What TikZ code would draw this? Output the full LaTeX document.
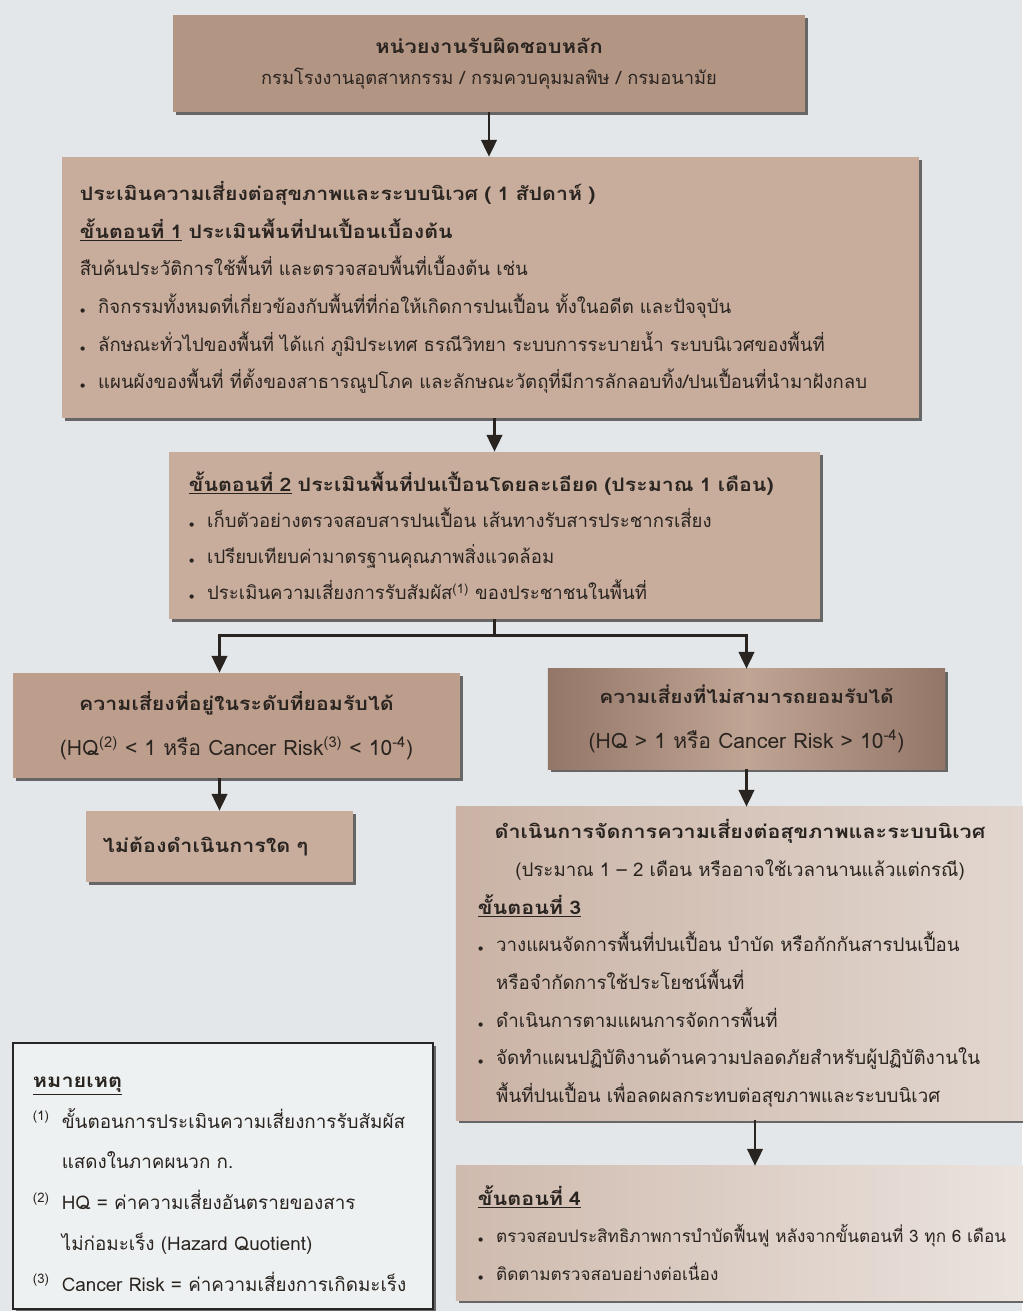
\documentclass[tikz,border=0pt]{standalone}
\usepackage{fontspec}
\setmainfont[Script=Thai, BoldFeatures={FakeStretch=1.15}]{Loma}
\usepackage{tikz}
\usetikzlibrary{arrows.meta,shadows}
\definecolor{paper}{HTML}{E3E7EA}
\definecolor{ink}{HTML}{2A2420}
\definecolor{tanA}{HTML}{B39584}
\definecolor{tanB}{HTML}{C8AD9D}
\definecolor{tanC}{HTML}{BD9E8C}
\definecolor{tanD}{HTML}{937667}
\definecolor{tanE}{HTML}{C0A494}
\definecolor{paleA}{HTML}{CAB3A5}
\definecolor{paleB}{HTML}{E2D7D0}
\newlength{\itmw}
\setlength{\itmw}{13pt}
\newcommand{\itm}{\makebox[\itmw][l]{\scriptsize$\bullet$}}
\newcommand{\nte}[1]{\makebox[20.5pt][l]{\textsuperscript{#1}}}
\newcommand{\ctrline}[1]{\hspace*{0pt plus 1filll}#1\hspace*{0pt plus 1filll}\null}
\tikzstyle{box} = [rectangle, text=ink, inner xsep=0pt, inner ysep=0pt,
    drop shadow={shadow xshift=0.07cm, shadow yshift=-0.07cm, fill=black!60, opacity=1}]
\tikzstyle{body} = [font=\fontsize{13.2}{26.8}\selectfont]
\tikzstyle{link} = [-{Triangle[width=11pt,length=12pt]}, line width=2pt, ink]

\begin{document}
\begin{tikzpicture}[x=0.025cm, y=-0.025cm]
  % page
  \fill[paper] (0,0) rectangle (1022,1311);
  \useasboundingbox (0,0) rectangle (1022,1311);
  % Place boxes
  \node [box, fill=tanA, minimum width=15.8cm, minimum height=2.425cm, align=center,
         font=\fontsize{13}{21.5}\selectfont] (lead) at (489,63.5)
    {{\fontsize{13.5}{21.5}\selectfont\textbf{หน่วยงานรับผิดชอบหลัก}}\\ กรมโรงงานอุตสาหกรรม / กรมควบคุมมลพิษ / กรมอนามัย};
  \node [box, body, fill=tanB, minimum width=21.425cm, minimum height=6.525cm,
         text width=20.525cm, align=left] (stepone) at (490.5,287.5)
    {\textbf{ประเมินความเสี่ยงต่อสุขภาพและระบบนิเวศ ( 1 สัปดาห์ )}\\
     \textbf{\underline{ขั้นตอนที่ 1} ประเมินพื้นที่ปนเปื้อนเบื้องต้น}\\
     สืบค้นประวัติการใช้พื้นที่ และตรวจสอบพื้นที่เบื้องต้น เช่น\\
     \itm กิจกรรมทั้งหมดที่เกี่ยวข้องกับพื้นที่ที่ก่อให้เกิดการปนเปื้อน ทั้งในอดีต และปัจจุบัน\\
     \itm ลักษณะทั่วไปของพื้นที่ ได้แก่ ภูมิประเทศ ธรณีวิทยา ระบบการระบายน้ำ ระบบนิเวศของพื้นที่\\
     \itm แผนผังของพื้นที่ ที่ตั้งของสาธารณูปโภค และลักษณะวัตถุที่มีการลักลอบทิ้ง/ปนเปื้อนที่นำมาฝังกลบ};
  \node [box, fill=tanB, minimum width=16.275cm, minimum height=4.175cm,
         text width=15.275cm, align=left, font=\fontsize{13.2}{25.6}\selectfont] (steptwo) at (494.5,535.5)
    {\textbf{\underline{ขั้นตอนที่ 2} ประเมินพื้นที่ปนเปื้อนโดยละเอียด (ประมาณ 1 เดือน)}\\
     \itm เก็บตัวอย่างตรวจสอบสารปนเปื้อน เส้นทางรับสารประชากรเสี่ยง\\
     \itm เปรียบเทียบค่ามาตรฐานคุณภาพสิ่งแวดล้อม\\
     \itm ประเมินความเสี่ยงการรับสัมผัส\textsuperscript{(1)} ของประชาชนในพื้นที่};
  \node [box, fill=tanC, minimum width=11.175cm, minimum height=2.625cm, align=center,
         font=\fontsize{15}{32}\selectfont] (accept) at (236.5,725.5)
    {{\fontsize{13.2}{32}\selectfont\textbf{ความเสี่ยงที่อยู่ในระดับที่ยอมรับได้}}\\
     (HQ\textsuperscript{(2)} < 1 หรือ Cancer Risk\textsuperscript{(3)} < 10\textsuperscript{-4})};
  \node [box, left color=tanD, right color=tanD, middle color=tanE,
         minimum width=9.925cm, minimum height=2.5cm, align=center,
         font=\fontsize{15}{31.5}\selectfont] (reject) at (746.5,719)
    {{\fontsize{12.9}{31.5}\selectfont\textbf{ความเสี่ยงที่ไม่สามารถยอมรับได้}}\\
     (HQ > 1 หรือ Cancer Risk > 10\textsuperscript{-4})};
  \node [box, fill=tanB, minimum width=6.675cm, minimum height=1.775cm,
         text width=5.825cm, align=left, font=\fontsize{13.3}{20}\selectfont] (noaction) at (219.5,846.5)
    {\textbf{ไม่ต้องดำเนินการใด ๆ}};
  \node [box, left color=paleA, right color=paleB, minimum width=14.2cm, minimum height=7.825cm,
         text width=13.1cm, align=left, font=\fontsize{13.3}{26.8}\selectfont] (manage) at (740,963.5)
    {\ctrline{\textbf{ดำเนินการจัดการความเสี่ยงต่อสุขภาพและระบบนิเวศ}}\\
     \ctrline{(ประมาณ 1 – 2 เดือน หรืออาจใช้เวลานานแล้วแต่กรณี)}\\
     \textbf{\underline{ขั้นตอนที่ 3}}\\
     \itm วางแผนจัดการพื้นที่ปนเปื้อน บำบัด หรือกักกันสารปนเปื้อน\\
     \hspace*{\itmw}หรือจำกัดการใช้ประโยชน์พื้นที่\\
     \itm ดำเนินการตามแผนการจัดการพื้นที่\\
     \itm จัดทำแผนปฏิบัติงานด้านความปลอดภัยสำหรับผู้ปฏิบัติงานใน\\
     \hspace*{\itmw}พื้นที่ปนเปื้อน เพื่อลดผลกระทบต่อสุขภาพและระบบนิเวศ};
  \node [box, left color=paleA!80!paleB, right color=paleB!70!white, minimum width=14.2cm,
         minimum height=3.35cm, text width=13.1cm, align=left,
         font=\fontsize{12.2}{26.8}\selectfont] (monitor) at (740,1233)
    {{\fontsize{13.3}{26.8}\selectfont\textbf{\underline{ขั้นตอนที่ 4}}}\\
     \mbox{\itm ตรวจสอบประสิทธิภาพการบำบัดฟื้นฟู หลังจากขั้นตอนที่ 3 ทุก 6 เดือน}\\
     \itm ติดตามตรวจสอบอย่างต่อเนื่อง};
  % notes
  \node [box, draw=black!85, line width=1.6pt, fill=paper!60!white, minimum width=10.5cm,
         minimum height=6.65cm, text width=9.5cm, align=left,
         font=\fontsize{13.4}{29}\selectfont] (notes) at (223,1176)
    {\textbf{\underline{หมายเหตุ}}\rule{0pt}{19pt}\\
     \nte{(1)}ขั้นตอนการประเมินความเสี่ยงการรับสัมผัส\\
     \hspace*{20.5pt}แสดงในภาคผนวก ก.\\
     \nte{(2)}HQ = ค่าความเสี่ยงอันตรายของสาร\\
     \hspace*{20.5pt}ไม่ก่อมะเร็ง (Hazard Quotient)\\
     \nte{(3)}Cancer Risk = ค่าความเสี่ยงการเกิดมะเร็ง};
  % Draw edges
  \draw [link] (lead.south) -- (lead.south |- stepone.north);
  \draw [link] (steptwo.north |- stepone.south) -- (steptwo.north);
  \draw [line width=2pt, ink] (steptwo.south) -- ++(0,16) coordinate (split);
  \draw [link] (split) -| (noaction.north |- accept.north);
  \draw [link] (split) -| (reject.north);
  \draw [link] (noaction.north |- accept.south) -- (noaction.north);
  \draw [link] (reject.south) -- (reject.south |- manage.north);
  \draw [link] ([xshift=0.375cm]manage.south) -- ([xshift=0.375cm]manage.south |- monitor.north);
\end{tikzpicture}
\end{document}
